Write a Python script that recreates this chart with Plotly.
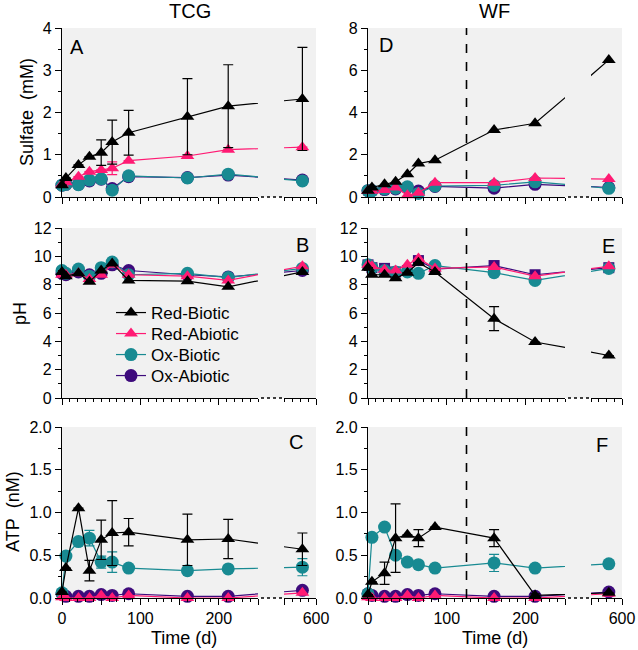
import plotly.graph_objects as go

W, H = 638, 650
FONT = "Liberation Sans, Arial, Helvetica, sans-serif"

# ---------------- data ----------------
DAYS = [0, 5, 21, 35, 50, 64, 85, 160, 212, 583]
SERIES = ["Red-Biotic", "Red-Abiotic", "Ox-Biotic", "Ox-Abiotic"]

# Sulfate (mM) - TCG
SULF_TCG_RED_BIO = [0.28, 0.45, 0.76, 0.95, 1.05, 1.30, 1.52, 1.90, 2.15, 2.32]
SULF_TCG_RED_BIO_ERR = [0, 0, 0, 0, 0.30, 0.52, 0.53, 0.90, 0.98, 1.22]
SULF_TCG_RED_ABIO = [0.30, 0.35, 0.48, 0.60, 0.64, 0.68, 0.86, 0.97, 1.12, 1.18]
SULF_TCG_RED_ABIO_ERR = [0, 0, 0, 0, 0, 0.15, 0, 0, 0, 0]
SULF_TCG_OX_BIO = [0.28, 0.30, 0.29, 0.40, 0.43, 0.16, 0.50, 0.45, 0.54, 0.38]
SULF_TCG_OX_ABIO = [0.28, 0.30, 0.30, 0.38, 0.42, 0.20, 0.48, 0.46, 0.52, 0.40]

# Sulfate (mM) - WF
SULF_WF_RED_BIO = [0.30, 0.45, 0.60, 0.72, 1.08, 1.58, 1.74, 3.17, 3.49, 6.49]
SULF_WF_RED_ABIO = [0.30, 0.30, 0.33, 0.45, 0.08, 0.20, 0.68, 0.68, 0.90, 0.85]
SULF_WF_OX_BIO = [0.30, 0.30, 0.38, 0.42, 0.48, 0.17, 0.52, 0.55, 0.72, 0.41]
SULF_WF_OX_ABIO = [0.30, 0.30, 0.35, 0.38, 0.45, 0.28, 0.50, 0.42, 0.60, 0.45]

# pH - TCG
PH_TCG_RED_BIO = [8.90, 8.60, 8.80, 8.20, 9.00, 9.50, 8.30, 8.25, 7.85, 8.90]
PH_TCG_RED_ABIO = [8.70, 8.70, 8.80, 8.40, 8.70, 9.40, 8.70, 8.60, 8.30, 9.30]
PH_TCG_OX_BIO = [9.00, 8.80, 9.10, 8.60, 9.20, 9.60, 8.70, 8.80, 8.50, 9.15]
PH_TCG_OX_ABIO = [8.80, 8.70, 8.90, 8.70, 8.80, 9.40, 9.00, 8.70, 8.55, 9.00]

# pH - WF
PH_WF_RED_BIO = [9.20, 8.70, 8.70, 8.45, 8.85, 9.55, 8.90, 5.60, 3.95, 3.00]
PH_WF_RED_BIO_ERR = [0, 0, 0, 0, 0, 0, 0, 0.85, 0, 0]
PH_WF_RED_ABIO = [9.40, 9.30, 9.05, 9.00, 9.40, 9.85, 9.15, 9.25, 8.60, 9.30]
PH_WF_OX_BIO = [9.40, 9.20, 9.00, 8.90, 8.90, 8.80, 9.35, 8.85, 8.30, 9.15]
PH_WF_OX_ABIO = [9.40, 9.20, 9.15, 8.90, 9.00, 9.70, 9.10, 9.35, 8.70, 9.20]

# ATP (nM) - TCG
ATP_TCG_RED_BIO = [0.07, 0.35, 1.05, 0.32, 0.68, 0.76, 0.77, 0.68, 0.69, 0.57]
ATP_TCG_RED_BIO_ERR = [0, 0, 0, 0.12, 0.23, 0.38, 0.16, 0.30, 0.23, 0.19]
ATP_TCG_RED_ABIO = [0.01, 0.00, 0.00, 0.00, 0.03, 0.00, 0.03, 0.00, 0.00, 0.06]
ATP_TCG_OX_BIO = [0.06, 0.49, 0.66, 0.70, 0.42, 0.42, 0.35, 0.32, 0.34, 0.36]
ATP_TCG_OX_BIO_ERR = [0, 0, 0, 0.09, 0.07, 0.12, 0, 0, 0, 0.10]
ATP_TCG_OX_ABIO = [0.05, 0.02, 0.02, 0.02, 0.04, 0.03, 0.05, 0.02, 0.02, 0.09]

# ATP (nM) - WF
ATP_WF_RED_BIO = [0.04, 0.19, 0.29, 0.70, 0.74, 0.70, 0.83, 0.70, 0.03, 0.06]
ATP_WF_RED_BIO_ERR = [0, 0, 0.13, 0.40, 0, 0.10, 0, 0.10, 0.02, 0]
ATP_WF_RED_ABIO = [0.01, 0.00, 0.00, 0.00, 0.03, 0.00, 0.03, 0.00, 0.00, 0.05]
ATP_WF_OX_BIO = [0.05, 0.71, 0.83, 0.50, 0.42, 0.39, 0.35, 0.41, 0.35, 0.40]
ATP_WF_OX_BIO_ERR = [0, 0, 0, 0, 0, 0, 0, 0.10, 0, 0]
ATP_WF_OX_ABIO = [0.05, 0.03, 0.02, 0.02, 0.04, 0.03, 0.05, 0.02, 0.02, 0.07]

# broken x axis: segment 1 = 0..250 d, segment 2 = 560..600 d
SEG1 = [0, 250]
SEG2 = [560, 600]
SEG1_TICKS = [0, 50, 100, 150, 200, 250]
SEG1_TICKTEXT = ["0", "", "100", "", "200", ""]
SEG2_TICKS = [560, 600]
SEG2_TICKTEXT = ["", "600"]
TREATMENT_DAY = 125

# ---------------- styling ----------------
COLORS = {"Red-Biotic": "#000000", "Red-Abiotic": "#ff1a73",
          "Ox-Biotic": "#188a92", "Ox-Abiotic": "#3e0b7c"}
SYMBOLS = {"Red-Biotic": "triangle-up", "Red-Abiotic": "triangle-up",
           "Ox-Biotic": "circle", "Ox-Abiotic": "circle"}
SIZES = {"triangle-up": 12, "circle": 13, "square": 11}
DRAW_ORDER = ["Ox-Abiotic", "Ox-Biotic", "Red-Abiotic", "Red-Biotic"]

# pixel layout
COLS = {"TCG": (62, 258, 284, 316), "WF": (368, 565, 591, 622)}
ROWS = [(28, 197), (228, 398), (427, 598)]
LEGEND_X = 111
LEGEND_ROWS = [313, 334, 355, 376]
GAP_SHIFT = (SEG2[0] - SEG1[1]) - (COLS["TCG"][2] - COLS["TCG"][1]) * (SEG1[1] - SEG1[0]) / (COLS["TCG"][1] - COLS["TCG"][0])


def to_axis(d):
    """Broken-axis transform: keep pixel scale continuous across the break."""
    return d if d <= SEG1[1] else d - GAP_SHIFT


def px_x(p):
    return p / W


def px_y(p):
    return 1 - p / H


panels = [
    dict(letter="A", col="TCG", row=0, ymax=4, dtick=1, minor=0.5, fmt="d",
         lpos=(77, 47), sym_override={},
         data={"Red-Biotic": (SULF_TCG_RED_BIO, SULF_TCG_RED_BIO_ERR),
               "Red-Abiotic": (SULF_TCG_RED_ABIO, SULF_TCG_RED_ABIO_ERR),
               "Ox-Biotic": (SULF_TCG_OX_BIO, None),
               "Ox-Abiotic": (SULF_TCG_OX_ABIO, None)}),
    dict(letter="D", col="WF", row=0, ymax=8, dtick=2, minor=1, fmt="d",
         lpos=(386, 45), sym_override={},
         data={"Red-Biotic": (SULF_WF_RED_BIO, None),
               "Red-Abiotic": (SULF_WF_RED_ABIO, None),
               "Ox-Biotic": (SULF_WF_OX_BIO, None),
               "Ox-Abiotic": (SULF_WF_OX_ABIO, None)}),
    dict(letter="B", col="TCG", row=1, ymax=12, dtick=2, minor=1, fmt="d",
         lpos=(302, 245), sym_override={},
         data={"Red-Biotic": (PH_TCG_RED_BIO, None),
               "Red-Abiotic": (PH_TCG_RED_ABIO, None),
               "Ox-Biotic": (PH_TCG_OX_BIO, None),
               "Ox-Abiotic": (PH_TCG_OX_ABIO, None)}),
    dict(letter="E", col="WF", row=1, ymax=12, dtick=2, minor=1, fmt="d",
         lpos=(608, 246), sym_override={"Ox-Abiotic": "square"},
         data={"Red-Biotic": (PH_WF_RED_BIO, PH_WF_RED_BIO_ERR),
               "Red-Abiotic": (PH_WF_RED_ABIO, None),
               "Ox-Biotic": (PH_WF_OX_BIO, None),
               "Ox-Abiotic": (PH_WF_OX_ABIO, None)}),
    dict(letter="C", col="TCG", row=2, ymax=2, dtick=0.5, minor=0.25, fmt=".1f",
         lpos=(296, 442), sym_override={},
         data={"Red-Biotic": (ATP_TCG_RED_BIO, ATP_TCG_RED_BIO_ERR),
               "Red-Abiotic": (ATP_TCG_RED_ABIO, None),
               "Ox-Biotic": (ATP_TCG_OX_BIO, ATP_TCG_OX_BIO_ERR),
               "Ox-Abiotic": (ATP_TCG_OX_ABIO, None)}),
    dict(letter="F", col="WF", row=2, ymax=2, dtick=0.5, minor=0.25, fmt=".1f",
         lpos=(602, 445), sym_override={},
         data={"Red-Biotic": (ATP_WF_RED_BIO, ATP_WF_RED_BIO_ERR),
               "Red-Abiotic": (ATP_WF_RED_ABIO, None),
               "Ox-Biotic": (ATP_WF_OX_BIO, ATP_WF_OX_BIO_ERR),
               "Ox-Abiotic": (ATP_WF_OX_ABIO, None)}),
]

fig = go.Figure()
layout = {}
shapes = []
annotations = []


def axname(k):
    return "" if k == 1 else str(k)


AX_COMMON = dict(showline=True, linecolor="black", linewidth=1.3, ticks="outside",
                 ticklen=6, tickwidth=1.3, tickcolor="black", showgrid=False,
                 zeroline=False, automargin=False,
                 tickfont=dict(family=FONT, size=16, color="black"))

for i, p in enumerate(panels):
    k1, k2 = 2 * i + 1, 2 * i + 2
    c = COLS[p["col"]]
    top, bot = ROWS[p["row"]]
    ydom = [px_y(bot), px_y(top)]
    show_xlab = p["row"] == 2

    layout["xaxis" + axname(k1)] = dict(
        AX_COMMON, domain=[px_x(c[0]), px_x(c[1])], range=[to_axis(SEG1[0]), to_axis(SEG1[1])],
        anchor="y" + axname(k1), tickmode="array",
        tickvals=[to_axis(t) for t in SEG1_TICKS], ticktext=SEG1_TICKTEXT,
        showticklabels=show_xlab,
        minor=dict(ticks="outside", ticklen=3, tickwidth=1, tickcolor="black",
                   tickmode="linear", tick0=0, dtick=10))
    layout["xaxis" + axname(k2)] = dict(
        AX_COMMON, domain=[px_x(c[2]), px_x(c[3])], range=[to_axis(SEG2[0]), to_axis(SEG2[1])],
        anchor="y" + axname(k2), tickmode="array",
        tickvals=[to_axis(t) for t in SEG2_TICKS], ticktext=SEG2_TICKTEXT,
        showticklabels=show_xlab,
        minor=dict(ticks="outside", ticklen=3, tickwidth=1, tickcolor="black",
                   tickmode="linear", tick0=to_axis(SEG2[0]), dtick=10))
    layout["yaxis" + axname(k1)] = dict(
        AX_COMMON, domain=ydom, range=[0, p["ymax"]], anchor="x" + axname(k1),
        tickmode="linear", tick0=0, dtick=p["dtick"], tickformat=p["fmt"],
        minor=dict(ticks="outside", ticklen=3, tickwidth=1, tickcolor="black",
                   dtick=p["minor"]))
    layout["yaxis" + axname(k2)] = dict(
        domain=ydom, range=[0, p["ymax"]], anchor="x" + axname(k2), automargin=False,
        showline=False, showticklabels=False, ticks="", showgrid=False, zeroline=False)

    # background and break marker
    shapes.append(dict(type="rect", xref="paper", yref="paper", layer="below",
                       x0=px_x(c[0]), x1=px_x(c[3]), y0=ydom[0], y1=ydom[1],
                       fillcolor="#f1f1f1", line=dict(width=0)))
    shapes.append(dict(type="line", xref="paper", yref="paper", layer="above",
                       x0=px_x(c[1] + 3), x1=px_x(c[2] - 2), y0=ydom[0], y1=ydom[0],
                       line=dict(color="black", width=1.5, dash="dot")))
    if p["col"] == "WF":
        shapes.append(dict(type="line", xref="x" + axname(k1), yref="paper", layer="above",
                           x0=TREATMENT_DAY, x1=TREATMENT_DAY, y0=ydom[0], y1=ydom[1],
                           line=dict(color="black", width=1.6, dash="dash")))

    annotations.append(dict(text=p["letter"], xref="paper", yref="paper",
                            x=px_x(p["lpos"][0]), y=px_y(p["lpos"][1]), showarrow=False,
                            xanchor="center", yanchor="middle",
                            font=dict(family=FONT, size=20, color="black")))

    for s in DRAW_ORDER:
        vals, err = p["data"][s]
        color = COLORS[s]
        sym = p["sym_override"].get(s, SYMBOLS[s])
        xs = [to_axis(d) for d in DAYS]
        for k, (lo, hi) in ((k1, SEG1), (k2, SEG2)):
            xa, ya = "x" + axname(k), "y" + axname(k)
            fig.add_trace(go.Scatter(
                x=xs, y=vals, mode="lines", xaxis=xa, yaxis=ya,
                line=dict(color=color, width=1.2), showlegend=False, hoverinfo="skip"))
            idx = [j for j, d in enumerate(DAYS) if lo <= d <= hi]
            mk = dict(
                x=[xs[j] for j in idx], y=[vals[j] for j in idx], mode="markers",
                xaxis=xa, yaxis=ya, cliponaxis=False, showlegend=False, name=s,
                marker=dict(symbol=sym, size=SIZES[sym], color=color, line=dict(width=0)))
            if err is not None:
                mk["error_y"] = dict(type="data", array=[err[j] for j in idx], visible=True,
                                     color=color, thickness=1.2, width=5)
            fig.add_trace(go.Scatter(**mk))

# legend entries (panel B), one legend box per entry for exact row spacing
legend_layouts = {}
for n, s in enumerate(SERIES):
    lname = "legend" if n == 0 else "legend%d" % (n + 1)
    fig.add_trace(go.Scatter(
        x=[None], y=[None], mode="lines+markers", name=s, xaxis="x3", yaxis="y3",
        legend=lname, showlegend=True,
        line=dict(color=COLORS[s], width=1.2),
        marker=dict(symbol=SYMBOLS[s], size=SIZES[SYMBOLS[s]], color=COLORS[s], line=dict(width=0))))
    legend_layouts[lname] = dict(
        x=px_x(LEGEND_X), y=px_y(LEGEND_ROWS[n]), xanchor="left", yanchor="middle",
        bgcolor="rgba(0,0,0,0)", borderwidth=0,
        font=dict(family=FONT, size=17, color="black"), itemwidth=30)

# titles
for txt, x, y, ang, size in [
    ("TCG", 190, 11, 0, 20), ("WF", 494, 11, 0, 20),
    ("Sulfate\u00a0\u00a0(mM)", 27, 112, -90, 18), ("pH", 20, 313, -90, 18),
    ("ATP\u00a0\u00a0(nM)", 13, 512, -90, 18),
    ("Time (d)", 184, 638, 0, 18), ("Time (d)", 495, 638, 0, 18),
]:
    annotations.append(dict(text=txt, xref="paper", yref="paper", x=px_x(x), y=px_y(y),
                            showarrow=False, xanchor="center", yanchor="middle", textangle=ang,
                            font=dict(family=FONT, size=size, color="black")))

fig.update_layout(
    width=W, height=H, margin=dict(l=0, r=0, t=0, b=0, autoexpand=False),
    paper_bgcolor="white", plot_bgcolor="rgba(0,0,0,0)",
    font=dict(family=FONT, color="black"),
    shapes=shapes, annotations=annotations,
    **legend_layouts,
    **layout,
)

PAGE_JS = (
    "var h=document.documentElement,b=document.body;"
    "h.style.margin='0';h.style.padding='0';h.style.overflow='hidden';"
    "b.style.margin='0';b.style.padding='0';b.style.overflow='hidden';"
)

fig.write_html("out.html", config={"displayModeBar": False}, post_script=PAGE_JS)
